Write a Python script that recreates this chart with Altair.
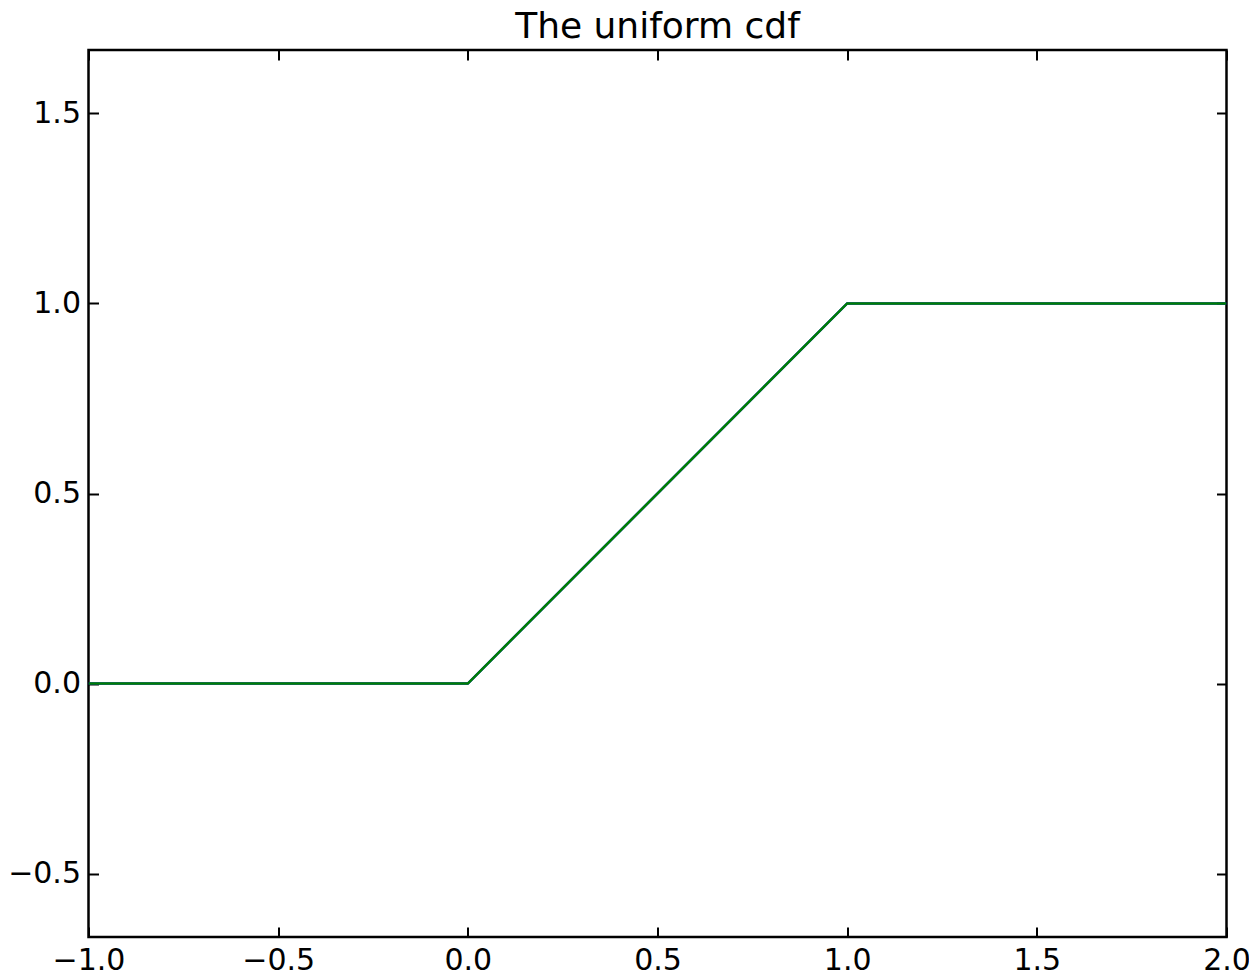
import altair as alt
import pandas as pd

# ---- data ----
x_points = [-1.0, 0.0, 1.0, 2.0]
cdf_points = [0.0, 0.0, 1.0, 1.0]
series_names = ["blue", "green"]
series_colors = ["#0000ff", "#008000"]
x_ticks = [-1.0, -0.5, 0.0, 0.5, 1.0, 1.5, 2.0]
y_ticks = [-0.5, 0.0, 0.5, 1.0, 1.5]
x_domain = [-1.0, 2.0]
y_domain = [-2 / 3, 5 / 3]
title_text = "The uniform cdf"

rows = []
for s in series_names:
    for i, (xv, yv) in enumerate(zip(x_points, cdf_points)):
        rows.append({"x": xv, "y": yv, "series": s, "order": i})
df = pd.DataFrame(rows)

W, H = 1138, 887
FONT = "DejaVu Sans"

xs = alt.Scale(domain=x_domain, nice=False, zero=False)
ys = alt.Scale(domain=y_domain, nice=False, zero=False)


def axis(values, orient, labels, ticks, offset=0):
    return alt.Axis(
        orient=orient, values=values, labels=labels, ticks=ticks,
        tickSize=10, tickWidth=2, tickColor="black",
        domain=False, grid=False, title=None, offset=offset,
        format=".1f", labelFont=FONT, labelFontSize=30,
        labelColor="black", labelPadding=8, labelFlush=False,
    )


def line_layer(name, color, xaxis, yaxis, opacity=1.0):
    return (
        alt.Chart(df[df["series"] == name])
        .mark_line(color=color, strokeWidth=2.5, opacity=opacity, clip=True)
        .encode(
            x=alt.X("x:Q", scale=xs, axis=xaxis),
            y=alt.Y("y:Q", scale=ys, axis=yaxis),
            order="order:Q",
        )
    )


# labels (no ticks)
blue = line_layer(series_names[0], series_colors[0],
                  axis(x_ticks, "bottom", True, False),
                  axis(y_ticks, "left", True, False))
# inward ticks on bottom and left edges
green = line_layer(series_names[1], series_colors[1],
                   axis(x_ticks, "top", False, True, offset=-H),
                   axis(y_ticks, "right", False, True, offset=-W))
# inward ticks on top and right edges (invisible carrier layer)
ghost = line_layer(series_names[1], series_colors[1],
                   axis(x_ticks, "bottom", False, True, offset=-H),
                   axis(y_ticks, "left", False, True, offset=-W),
                   opacity=0.0)

chart = (
    alt.layer(ghost, blue, green)
    .resolve_axis(x="independent", y="independent")
    .properties(
        width=W,
        height=H,
        autosize="none",
        padding={"left": 80.5, "top": 42, "right": 22.5, "bottom": 40},
        title=alt.TitleParams(
            text=title_text, font=FONT, fontSize=36, fontWeight="normal",
            color="black", anchor="middle", frame="group", offset=3,
        ),
    )
    .configure_view(stroke="black", strokeWidth=2.5)
)

chart.save("out.html", embed_options={"renderer": "svg", "actions": False})
